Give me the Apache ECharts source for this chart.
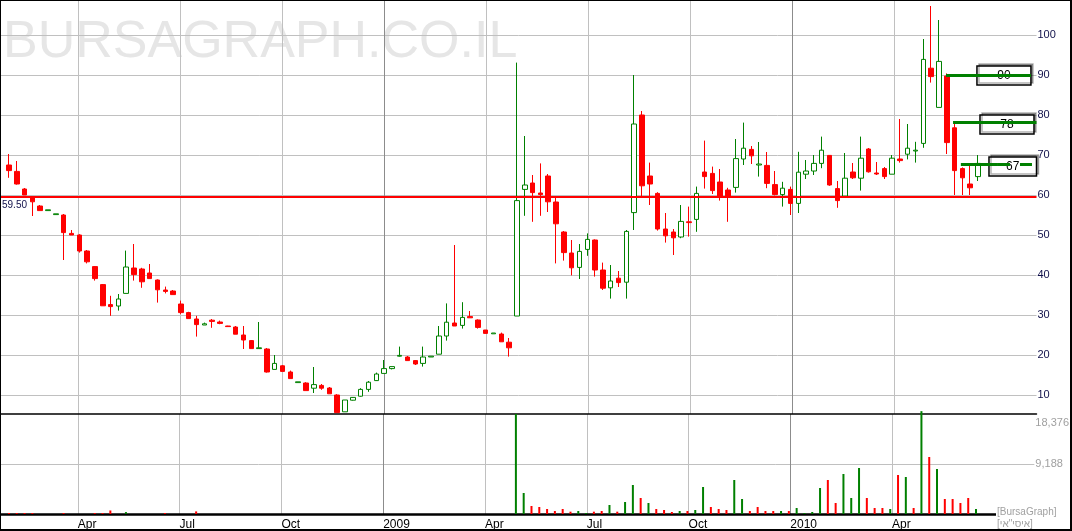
<!DOCTYPE html>
<html>
<head>
<meta charset="utf-8">
<script src="https://cdn.jsdelivr.net/npm/echarts@6.0.0/dist/echarts.min.js"></script>
<style>
  html, body { margin: 0; padding: 0; background: #fff; }
  #chart { width: 1072px; height: 531px; }
</style>
</head>
<body>
<div id="chart"></div>
<script>
// weekly bars, Feb 2008 - Jun 2010
const opens = [
  67.5, 65.9, 61.5, 59.6, 57.25, 56.1, 55.1, 55.0, 50.4, 50.0,
  46.0, 42.1, 37.6, 32.6, 32.25, 35.4, 41.75, 41.5, 40.5, 38.75,
  36.25, 36.0, 32.75, 30.6, 29.0, 27.5, 28.7, 28.25, 27.25, 27.0,
  25.0, 23.6, 21.6, 21.5, 16.4, 17.3, 15.75, 13.1, 13.0, 11.7,
  12.4, 11.75, 10.0, 5.8, 8.7, 9.7, 11.4, 13.6, 15.4, 16.6,
  19.7, 19.5, 18.6, 17.9, 19.5, 20.2, 24.75, 28.0, 27.4, 29.6,
  28.75, 26.25, 25.3, 25.25, 23.2, 29.75, 61.4, 63.0, 60.5, 64.75,
  58.25, 50.75, 45.5, 41.9, 46.4, 48.75, 41.25, 36.8, 39.2, 38.2,
  55.6, 80.0, 64.75, 60.4, 51.5, 50.75, 49.5, 53.3, 53.9, 65.75,
  65.4, 63.25, 61.25, 61.9, 69.0, 71.4, 67.5, 67.4, 62.6, 60.1,
  61.4, 57.9, 65.2, 66.0, 67.9, 69.9, 61.6, 59.75, 65.75, 64.2,
  71.5, 65.5, 66.6, 65.2, 69.0, 70.2, 71.0, 72.9, 91.7, 81.9,
  89.75, 76.8, 66.6, 62.75, 64.6
];
const closes = [
  66.1, 62.75, 60.0, 58.3, 56.1, 56.3, 55.3, 50.6, 50.0, 46.0,
  43.3, 39.1, 32.3, 32.1, 34.0, 42.0, 40.1, 38.3, 39.1, 36.3,
  35.9, 35.1, 30.6, 29.1, 27.6, 27.8, 28.4, 27.9, 27.1, 25.2,
  23.75, 21.6, 21.8, 15.75, 17.9, 15.9, 14.1, 13.3, 11.1, 12.6,
  11.7, 10.3, 5.6, 8.75, 9.4, 11.4, 13.2, 15.25, 16.6, 17.1,
  19.9, 18.6, 17.75, 19.5, 19.7, 24.75, 28.2, 27.25, 29.4, 29.3,
  26.9, 25.4, 25.5, 23.3, 21.8, 58.6, 62.5, 60.6, 60.1, 58.3,
  52.8, 45.6, 41.8, 45.9, 48.9, 41.25, 36.7, 38.5, 38.1, 50.9,
  77.75, 62.3, 62.75, 51.5, 49.8, 49.3, 53.4, 53.1, 60.4, 64.6,
  61.1, 59.6, 59.5, 69.1, 71.7, 69.8, 67.75, 62.9, 60.1, 61.7,
  57.9, 65.7, 66.0, 67.9, 71.2, 62.5, 58.6, 64.2, 64.3, 69.2,
  65.8, 65.25, 64.6, 69.2, 68.6, 71.7, 71.2, 93.9, 89.6, 93.4,
  73.1, 66.1, 64.3, 61.8, 67.9
];
const lows = [
  64.3, 62.6, 60.0, 54.75, 56.1, 56.1, 55.1, 43.75, 50.0, 45.6,
  42.9, 38.6, 32.3, 29.8, 31.1, 35.4, 38.6, 36.8, 39.1, 33.1,
  35.4, 35.1, 30.2, 29.1, 24.6, 27.5, 26.8, 27.7, 27.1, 25.2,
  21.5, 21.6, 21.6, 15.6, 16.4, 15.9, 14.1, 13.1, 11.1, 10.5,
  11.3, 10.3, 5.6, 5.8, 8.6, 9.6, 10.8, 13.5, 15.4, 16.4,
  19.6, 18.6, 17.5, 17.1, 19.5, 20.2, 23.6, 27.25, 26.6, 29.3,
  26.6, 25.4, 25.3, 23.3, 19.6, 29.75, 54.8, 53.3, 54.8, 55.75,
  42.9, 43.6, 39.9, 39.0, 44.8, 39.6, 36.25, 34.1, 37.0, 34.1,
  51.25, 59.6, 57.5, 51.1, 48.1, 45.0, 49.2, 49.6, 50.8, 61.6,
  60.25, 58.6, 53.3, 60.6, 67.5, 67.75, 64.6, 61.7, 59.9, 57.1,
  55.0, 55.5, 64.0, 65.0, 66.7, 62.3, 56.8, 59.75, 64.0, 61.1,
  65.6, 65.0, 64.0, 65.2, 68.1, 68.9, 68.1, 71.8, 88.1, 81.9,
  70.25, 60.0, 60.0, 60.0, 63.5
];
const highs = [
  70.25, 68.5, 61.75, 59.6, 57.5, 56.3, 55.3, 55.25, 51.25, 50.2,
  46.25, 42.25, 37.75, 34.8, 35.25, 46.1, 47.75, 41.8, 42.75, 38.9,
  37.1, 36.25, 33.6, 30.8, 29.8, 28.1, 29.0, 28.6, 27.3, 27.25,
  27.25, 23.75, 28.25, 21.75, 20.0, 17.5, 16.1, 13.3, 13.2, 17.0,
  12.75, 12.0, 10.2, 8.75, 9.5, 11.7, 13.5, 15.6, 18.75, 17.1,
  22.1, 19.75, 18.75, 22.1, 19.7, 27.25, 32.9, 47.5, 33.2, 31.0,
  28.9, 26.25, 25.5, 25.6, 24.25, 93.1, 74.75, 65.0, 67.9, 65.25,
  59.6, 51.0, 48.75, 47.75, 50.4, 48.9, 43.1, 42.5, 41.0, 51.25,
  90.0, 81.0, 68.1, 60.7, 55.5, 51.5, 57.5, 57.1, 62.1, 73.6,
  67.1, 66.5, 61.8, 74.0, 78.1, 72.25, 73.25, 70.75, 66.0, 63.3,
  62.1, 70.8, 68.75, 70.0, 74.6, 70.0, 63.5, 70.5, 68.0, 74.6,
  71.75, 68.25, 67.0, 70.0, 79.0, 77.75, 73.3, 99.0, 107.25, 103.75,
  90.4, 78.1, 66.9, 67.5, 70.0
];
const volumes = [
  180, 180, 180, 180, 0, 0, 0, 180, 0, 0,
  0, 180, 180, 650, 0, 350, 0, 0, 0, 0,
  180, 0, 0, 0, 480, 0, 0, 0, 0, 0,
  0, 0, 0, 0, 0, 0, 0, 0, 0, 0,
  0, 0, 0, 0, 0, 0, 0, 0, 0, 0,
  0, 0, 0, 0, 0, 0, 0, 0, 0, 0,
  0, 0, 0, 0, 0, 18376, 3859, 1470, 1286, 919,
  551, 919, 429, 551, 184, 429, 551, 1654, 429, 2205,
  5329, 2940, 2021, 919, 735, 368, 551, 551, 735, 4961,
  1286, 919, 735, 6248, 2756, 551, 1286, 551, 551, 551,
  551, 1100, 184, 368, 4778, 6248, 2021, 7350, 2940, 8453,
  2940, 1103, 1103, 919, 7166, 6799, 1103, 18900, 10474, 8269,
  2756, 2756, 2021, 2940, 919
];

// quarter starts, in weeks from the first bar
const quarterTicks = [8.83, 21.88, 34.93, 47.98, 61.04, 74.09, 87.14, 100.19, 113.24];
const quarterLabels = ['Apr', 'Jul', 'Oct', '2009', 'Apr', 'Jul', 'Oct', '2010', 'Apr'];
const priceTicks = [10, 20, 30, 40, 50, 60, 70, 80, 90, 100];
const volumeTicks = [0, 9188, 18376];

const supportLevel = 59.5;
const targetLabels = ['90', '78', '67'];
const targetLevels = [90, 78.25, 67.8];
const targetFrom = [119.9, 120.8, 121.8];
const targetTo = [130.77, 131.48, 126.55];
const boxLeft = [123.86, 124.25, 125.4];
const boxRight = [130.77, 131.16, 133.3];
const boxTop = [92.25, 80, 69.5];
const boxBottom = [87.5, 75.25, 64.75];

const FONT = '"Liberation Sans", Arial, sans-serif';
const xMin = -1.15, xMax = 131.48;

const chart = echarts.init(document.getElementById('chart'));

const candleData = opens.map((o, i) => [i, o, closes[i], lows[i], highs[i]]);
const volumeData = volumes.map((v, i) => {
  const prev = i > 0 ? closes[i - 1] : opens[i];
  return { value: [i, v], itemStyle: { color: closes[i] >= prev ? '#008000' : '#ff0000' } };
});

function quarterName(v) {
  let k = 0;
  quarterTicks.forEach((t, j) => { if (Math.abs(t - v) < Math.abs(quarterTicks[k] - v)) k = j; });
  return quarterLabels[k];
}

function xAxisFor(gridIndex, withLabels) {
  return {
    type: 'value',
    gridIndex: gridIndex,
    min: xMin,
    max: xMax,
    axisLine: { show: true, onZero: false, lineStyle: { color: '#000', width: gridIndex ? 2.5 : 1.5 } },
    axisTick: { show: false, customValues: quarterTicks },
    axisLabel: {
      show: withLabels,
      customValues: quarterTicks,
      formatter: quarterName,
      align: 'left',
      margin: 5,
      color: '#000',
      fontSize: 12,
      fontFamily: FONT
    },
    splitLine: {
      show: true,
      lineStyle: { color: ['#c0c0c0', '#c0c0c0', '#c0c0c0', '#8c8c8c'], width: 1 }
    }
  };
}

const markLines = [
  {
    yAxis: supportLevel,
    lineStyle: { color: '#ff0000', width: 2, type: 'solid' },
    label: {
      show: true,
      position: 'insideStartBottom',
      formatter: supportLevel.toFixed(2),
      color: '#10104a',
      fontSize: 10,
      fontFamily: FONT,
      distance: [2, 3]
    }
  }
];
targetLevels.forEach((lv, k) => {
  markLines.push([
    { coord: [targetFrom[k], lv], lineStyle: { color: '#008000', width: 3, type: 'solid' }, label: { show: false } },
    { coord: [targetTo[k], lv] }
  ]);
});
// dashed tail of the last target line
markLines.push([
  { coord: [targetTo[2], targetLevels[2]], lineStyle: { color: '#008000', width: 3, type: [12, 10] }, label: { show: false } },
  { coord: [xMax, targetLevels[2]] }
]);

const option = {
  animation: false,
  backgroundColor: '#fff',
  grid: [
    { left: 0, right: 35.5, top: 0, height: 414 },
    { left: 0, right: 35.5, top: 414, height: 101.5 }
  ],
  xAxis: [xAxisFor(0, false), xAxisFor(1, true)],
  yAxis: [
    {
      type: 'value',
      gridIndex: 0,
      position: 'right',
      min: 5.25,
      max: 108.75,
      axisLine: { show: false },
      axisTick: { show: false, customValues: priceTicks },
      axisLabel: { customValues: priceTicks, margin: 1, color: '#10104a', fontSize: 11, fontFamily: FONT },
      splitLine: { show: true, lineStyle: { color: '#c0c0c0', width: 1 } }
    },
    {
      type: 'value',
      gridIndex: 1,
      position: 'right',
      min: 0,
      max: volumeTicks[2],
      interval: volumeTicks[1],
      axisLine: { show: false },
      axisTick: { show: false },
      axisLabel: {
        showMinLabel: false,
        margin: 1,
        color: '#a0a0a0',
        fontSize: 11,
        fontFamily: FONT,
        formatter: function (v) {
          const s = v.toLocaleString('en-US');
          return v === volumeTicks[2] ? '{t|' + s + '}' : s;
        },
        rich: { t: { padding: [18, 0, 0, 0], color: '#a0a0a0', fontSize: 11, fontFamily: FONT } }
      },
      splitLine: { show: true, showMinLine: false, showMaxLine: false, lineStyle: { color: '#c0c0c0', width: 1 } }
    }
  ],
  graphic: [
    {
      type: 'text',
      left: 3,
      top: 17,
      z: -100,
      silent: true,
      style: { text: 'BURSAGRAPH.CO.IL', fill: '#e6e6e6', font: '52px "Liberation Sans", Arial, sans-serif' }
    },
    {
      type: 'text',
      left: 996,
      top: 507,
      z: 100,
      silent: true,
      style: { text: '[BursaGraph]', fill: '#a0a0a0', font: '10px "Liberation Sans", Arial, sans-serif', backgroundColor: '#fff', padding: [0, 0, 0, 1] }
    },
    {
      type: 'text',
      left: 997,
      top: 519,
      z: 100,
      silent: true,
      style: { text: '[איסי"אי]', fill: '#a0a0a0', font: '10px "Liberation Sans", Arial, sans-serif' }
    },
    {
      type: 'rect',
      z: 200,
      silent: true,
      shape: { x: 0, y: 0, width: 1071, height: 530 },
      style: { fill: 'none', stroke: '#000', lineWidth: 2 }
    }
  ],
  series: [
    {
      type: 'candlestick',
      xAxisIndex: 0,
      yAxisIndex: 0,
      barWidth: 5,
      clip: false,
      data: candleData,
      itemStyle: {
        color: '#ffffff',
        color0: '#ff0000',
        borderColor: '#008000',
        borderColor0: '#ff0000',
        borderWidth: 1
      },
      markLine: {
        silent: true,
        animation: false,
        symbol: ['none', 'none'],
        data: markLines
      },
      markArea: {
        silent: true,
        itemStyle: {
          color: '#ffffff',
          borderColor: '#000',
          borderWidth: 1.5,
          shadowColor: 'rgba(0,0,0,0.3)',
          shadowOffsetX: 2,
          shadowOffsetY: -2,
          shadowBlur: 0
        },
        label: { show: true, position: 'inside', color: '#000', fontSize: 12, fontFamily: FONT },
        data: targetLabels.map((t, k) => [
          { name: t, coord: [boxLeft[k], boxTop[k]] },
          { coord: [boxRight[k], boxBottom[k]] }
        ])
      }
    },
    {
      type: 'bar',
      xAxisIndex: 1,
      yAxisIndex: 1,
      barWidth: 2,
      clip: false,
      data: volumeData
    }
  ]
};

chart.setOption(option);
</script>
</body>
</html>
